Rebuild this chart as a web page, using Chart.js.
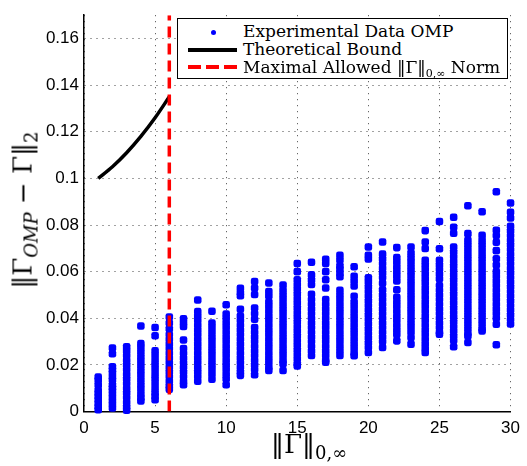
<!DOCTYPE html>
<html>
<head>
<meta charset="utf-8">
<script src="https://cdn.jsdelivr.net/npm/chart.js@4"></script>
<style>
  body { margin: 0; background: #fff; }
  #wrap { position: relative; width: 527px; height: 466px; }
  #legend { position: absolute; left: 177px; top: 18px; width: 331px; height: 61px;
            border: 1.5px solid #000; background: #fff; box-sizing: border-box;
            font-family: "DejaVu Serif", serif; font-size: 17px; }
  .row { position: absolute; left: 0; height: 18px; width: 100%; }
  .txt { position: absolute; left: 65px; top: -2px; white-space: nowrap; }
  .txt sub { font-size: 11px; }
  .ytitle, .xtitle { position: absolute; font-family: "DejaVu Serif", serif; font-size: 26px; white-space: nowrap; }
  .ytitle sub, .xtitle sub { font-size: 18px; }
</style>
</head>
<body>
<div id="wrap">
  <canvas id="chart1" width="527" height="466"></canvas>
  <div id="legend">
    <div class="row" style="top:4px">
      <div style="position:absolute;left:33px;top:7px;width:5px;height:5px;border-radius:50%;background:#00f"></div>
      <div class="txt">Experimental Data OMP</div>
    </div>
    <div class="row" style="top:22px">
      <div style="position:absolute;left:10px;top:7px;width:49px;height:4px;background:#000"></div>
      <div class="txt">Theoretical Bound</div>
    </div>
    <div class="row" style="top:40px">
      <div style="position:absolute;left:10px;top:6px;width:49px;height:4px;background:repeating-linear-gradient(to right,#f00 0 13px,transparent 13px 18px)"></div>
      <div class="txt">Maximal Allowed ‖Γ‖<sub>0,∞</sub> Norm</div>
    </div>
  </div>
  <div class="ytitle" id="ytitle">‖Γ<sub><i>OMP</i></sub> − Γ‖<sub>2</sub></div>
  <div class="xtitle" id="xtitle">‖Γ‖<sub>0,∞</sub></div>
</div>
<script>
// ----------------------------
// data
// ----------------------------
const xCols = [1,2,3,4,5,6,7,8,9,10,11,12,13,14,15,16,17,18,19,20,21,22,23,24,25,26,27,28,29,30];

const colVals = [
  [0.0148,0.0135,0.0115,0.0092,0.0078,0.0065,0.005,0.0035,0.002,0.0008],
  [0.0272,0.0248,0.0192,0.0178,0.0165,0.0148,0.0135,0.0115,0.0102,0.009,0.0075,0.006,0.0045,0.003,0.0015],
  [0.0278,0.026,0.024,0.022,0.02,0.018,0.016,0.014,0.012,0.01,0.008,0.006,0.004,0.002,0.0005],
  [0.0367,0.0292,0.0275,0.0255,0.0235,0.0215,0.0195,0.0175,0.0155,0.0135,0.0115,0.0095,0.0075,0.0058,0.0045],
  [0.036,0.0325,0.026,0.024,0.022,0.02,0.018,0.016,0.014,0.012,0.01,0.008,0.0065,0.005],
  [0.0405,0.038,0.0355,0.033,0.031,0.029,0.027,0.025,0.023,0.021,0.019,0.017,0.015,0.013,0.011,0.0095],
  [0.0398,0.038,0.0365,0.0307,0.027,0.025,0.023,0.021,0.019,0.017,0.015,0.013,0.0115],
  [0.0478,0.0429,0.041,0.039,0.037,0.035,0.033,0.031,0.029,0.027,0.025,0.023,0.021,0.019,0.017,0.015,0.013],
  [0.043,0.038,0.036,0.034,0.032,0.03,0.028,0.026,0.024,0.022,0.02,0.018,0.016,0.0138],
  [0.0458,0.0418,0.04,0.038,0.036,0.034,0.032,0.03,0.028,0.026,0.024,0.022,0.02,0.018,0.016,0.014,0.0115],
  [0.0529,0.051,0.0497,0.0439,0.041,0.039,0.037,0.035,0.033,0.031,0.029,0.027,0.025,0.023,0.021,0.019,0.017,0.0155],
  [0.0558,0.053,0.0502,0.0444,0.042,0.0396,0.036,0.034,0.032,0.03,0.028,0.026,0.024,0.022,0.02,0.018,0.0158],
  [0.0551,0.0515,0.0495,0.047,0.045,0.043,0.041,0.039,0.037,0.035,0.033,0.031,0.029,0.027,0.025,0.023,0.021,0.019,0.0176],
  [0.0543,0.052,0.05,0.048,0.046,0.044,0.042,0.04,0.038,0.036,0.034,0.032,0.03,0.028,0.026,0.024,0.022,0.0205,0.0176],
  [0.0635,0.06,0.0565,0.0545,0.0525,0.0505,0.0485,0.0465,0.0445,0.0425,0.0405,0.0385,0.0365,0.0345,0.0325,0.0305,0.0285,0.0265,0.0245,0.0225,0.0205,0.0195],
  [0.064,0.0586,0.0565,0.0545,0.0503,0.048,0.046,0.044,0.042,0.04,0.038,0.036,0.034,0.032,0.03,0.028,0.026,0.024],
  [0.0653,0.0635,0.06,0.0565,0.053,0.048,0.046,0.044,0.042,0.04,0.038,0.036,0.034,0.032,0.03,0.028,0.026,0.024,0.022,0.0211],
  [0.067,0.065,0.0625,0.061,0.0593,0.0578,0.052,0.05,0.048,0.046,0.044,0.042,0.04,0.038,0.036,0.034,0.032,0.03,0.028,0.026,0.024],
  [0.0621,0.058,0.056,0.0538,0.0494,0.047,0.045,0.043,0.041,0.039,0.037,0.035,0.033,0.031,0.029,0.027,0.025,0.0239],
  [0.0706,0.067,0.0654,0.0574,0.0555,0.0535,0.0515,0.0495,0.0475,0.0455,0.0435,0.0415,0.0395,0.0375,0.0355,0.0335,0.0315,0.0295,0.0275,0.0253],
  [0.0727,0.0675,0.0655,0.0635,0.0615,0.0595,0.0575,0.055,0.0522,0.05,0.048,0.046,0.044,0.042,0.04,0.038,0.036,0.034,0.032,0.03,0.0275],
  [0.0703,0.066,0.064,0.062,0.06,0.058,0.056,0.0522,0.049,0.047,0.045,0.043,0.041,0.039,0.037,0.035,0.033,0.0303],
  [0.0706,0.068,0.066,0.064,0.062,0.06,0.058,0.056,0.054,0.052,0.05,0.048,0.046,0.044,0.042,0.04,0.038,0.036,0.034,0.0317,0.0289],
  [0.0776,0.0727,0.0699,0.0649,0.063,0.061,0.059,0.057,0.055,0.053,0.051,0.049,0.047,0.045,0.043,0.041,0.039,0.037,0.035,0.033,0.031,0.029,0.027,0.0253],
  [0.0815,0.0698,0.0649,0.063,0.061,0.059,0.057,0.054,0.052,0.05,0.048,0.046,0.044,0.042,0.04,0.038,0.036,0.034,0.0331],
  [0.0833,0.079,0.0765,0.0706,0.0685,0.0665,0.0645,0.0625,0.0605,0.0585,0.0565,0.0545,0.0525,0.0505,0.0485,0.0465,0.0445,0.0425,0.0405,0.0385,0.0365,0.0345,0.0325,0.0305,0.0278],
  [0.0883,0.0763,0.0735,0.0715,0.0695,0.0675,0.0655,0.0635,0.0615,0.0595,0.0575,0.0555,0.0535,0.0515,0.0495,0.0475,0.0455,0.0435,0.0415,0.0395,0.0375,0.0355,0.0335,0.0324,0.0296],
  [0.0857,0.0756,0.0735,0.0715,0.0695,0.0675,0.0655,0.0635,0.0615,0.0595,0.0575,0.0555,0.0535,0.0515,0.0495,0.0475,0.0455,0.0435,0.0415,0.0395,0.0375,0.0355,0.0345],
  [0.0943,0.0777,0.0755,0.0726,0.069,0.0655,0.0628,0.06,0.058,0.056,0.054,0.052,0.05,0.048,0.046,0.044,0.042,0.04,0.0374,0.0286],
  [0.0894,0.0855,0.083,0.0795,0.0775,0.0755,0.0735,0.0715,0.0695,0.0675,0.0655,0.0635,0.0615,0.0595,0.0575,0.0555,0.0535,0.0515,0.0495,0.0475,0.0455,0.0435,0.0415,0.0395,0.0375]
];

// theoretical bound curve
const boundX = [1, 2, 3, 4, 5, 6];
const boundY = [0.100, 0.105, 0.111, 0.118, 0.126, 0.135];

// maximal allowed norm (vertical line)
const maxNormX = 6;
const yRange = [0, 0.17];

// ----------------------------
// build datasets
// ----------------------------
let scatterPts = [];
xCols.forEach((x, i) => colVals[i].forEach(y => scatterPts.push({x: x, y: y})));

const ctx = document.getElementById("chart1").getContext("2d");

new Chart(ctx, {
  type: "scatter",
  data: {
    datasets: [
      {
        label: "Experimental Data OMP",
        data: scatterPts,
        backgroundColor: "#0000ff",
        borderWidth: 0,
        pointStyle: "rectRounded",   // stacks into solid columns like the dense original
        pointRadius: 4.4,
        clip: false,
        order: 3
      },
      {
        label: "Theoretical Bound",
        type: "line",
        data: boundX.map((x, i) => ({x: x, y: boundY[i]})),
        borderColor: "#000",
        borderWidth: 3.5,
        pointRadius: 0,
        cubicInterpolationMode: "monotone",
        fill: false,
        order: 2
      },
      {
        label: "Maximal Allowed Norm",
        type: "line",
        data: yRange.map(y => ({x: maxNormX, y: y})),
        borderColor: "#ff0000",
        borderWidth: 3.5,
        borderDash: [11, 6],
        pointRadius: 0,
        fill: false,
        order: 1
      }
    ]
  },
  options: {
    responsive: false,
    animation: false,
    events: [],
    layout: { padding: { left: 0, right: 9, top: 10, bottom: 0 } },
    plugins: {
      legend: { display: false },
      tooltip: { enabled: false }
    },
    scales: {
      x: {
        type: "linear",
        min: 0, max: 30,
        ticks: { stepSize: 5, color: "#000", padding: 7,
                 font: { family: "Liberation Sans", size: 17 } },
        grid: { color: "#444", lineWidth: 1, drawTicks: false },
        border: { display: true, color: "#000", width: 1.5, dash: [1, 5] },
        afterFit: function(scale) { scale.height = 54.5; }
      },
      y: {
        type: "linear",
        min: 0, max: 0.17,
        ticks: { stepSize: 0.02, includeBounds: false, color: "#000", padding: 5,
                 font: { family: "Liberation Sans", size: 17 },
                 callback: v => (v === 0 ? "0" : parseFloat(v.toFixed(2)).toString()) },
        grid: { color: "#444", lineWidth: 1, drawTicks: false },
        border: { display: true, color: "#000", width: 1.5, dash: [1, 5] },
        afterFit: function(scale) { scale.width = 84; }
      }
    }
  }
});

// place axis titles
const yt = document.getElementById("ytitle");
yt.style.left = (24 - yt.offsetWidth / 2) + "px";
yt.style.top = (210 - yt.offsetHeight / 2) + "px";
yt.style.transform = "rotate(-90deg)";
const xt = document.getElementById("xtitle");
xt.style.left = (309 - xt.offsetWidth / 2) + "px";
xt.style.top = (446 - xt.offsetHeight / 2) + "px";
</script>
</body>
</html>
